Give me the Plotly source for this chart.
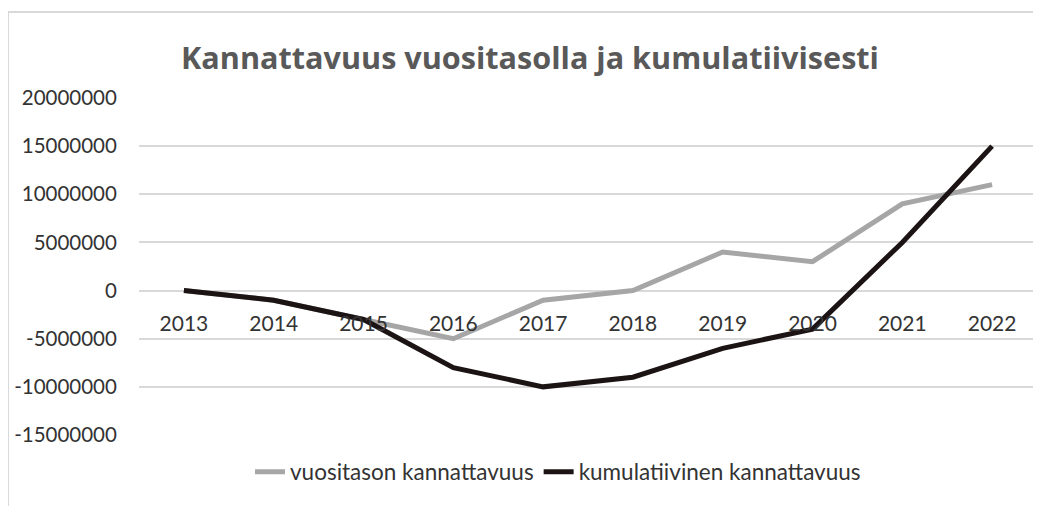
import plotly.graph_objects as go

years = ["2013", "2014", "2015", "2016", "2017", "2018", "2019", "2020", "2021", "2022"]
vuositason = [0, -1000000, -3000000, -5000000, -1000000, 0, 4000000, 3000000, 9000000, 11000000]
kumulatiivinen = [0, -1000000, -3000000, -8000000, -10000000, -9000000, -6000000, -4000000, 5000000, 15000000]
y_ticks = [-15000000, -10000000, -5000000, 0, 5000000, 10000000, 15000000, 20000000]

FONT = "Lato, Carlito, sans-serif"
TXT = "#333333"

fig = go.Figure()
fig.add_trace(go.Scatter(x=years, y=vuositason, mode="lines", name="vuositason kannattavuus",
                         line=dict(color="#a6a6a6", width=5)))
fig.add_trace(go.Scatter(x=years, y=kumulatiivinen, mode="lines", name="kumulatiivinen kannattavuus",
                         line=dict(color="#1c1414", width=5)))

OFF = 8  # page body margin
W, H = 1041 - OFF, 506 - OFF
L = 139 - OFF
T = 98 - OFF
R = W - (1037 - OFF)
B = H - (435 - OFF)
pw = W - L - R
ph = H - T - B

fig.update_layout(
    width=W, height=H, autosize=False,
    margin=dict(l=L, r=R, t=T, b=B, autoexpand=False),
    paper_bgcolor="white", plot_bgcolor="white",
    font=dict(family=FONT, size=21, color=TXT),
    title=dict(text="<b>Kannattavuus vuositasolla ja kumulatiivisesti</b>",
               font=dict(family="Open Sans, sans-serif", size=30.6, color="#595959"),
               x=(530 - OFF) / W, xref="container", xanchor="center",
               y=1 - (58 - OFF) / H, yref="container", yanchor="middle"),
    showlegend=True,
    legend=dict(orientation="h", x=(558 - 139) / pw, xanchor="center",
                y=(435 - 472) / ph, yanchor="middle",
                font=dict(family=FONT, size=22.5, color=TXT),
                bgcolor="rgba(0,0,0,0)", tracegroupgap=0),
    xaxis=dict(type="category", anchor="free", position=15 / 35,
               range=[-0.5, 9.5],
               showgrid=False, showline=False, zeroline=False,
               ticks="outside", ticklen=14, tickcolor="rgba(0,0,0,0)",
               tickangle=0,
               tickfont=dict(family=FONT, size=21, color=TXT)),
    yaxis=dict(range=[-15000000, 20000000], tickvals=y_ticks,
               ticktext=[str(v) for v in y_ticks],
               showgrid=True, gridcolor="#d9d9d9", gridwidth=2,
               zeroline=True, zerolinecolor="#d9d9d9", zerolinewidth=2,
               showline=False, ticks="outside", ticklen=17, tickcolor="rgba(0,0,0,0)",
               tickfont=dict(family=FONT, size=20.5, color=TXT)),
)

fig.add_shape(type="rect", xref="paper", yref="paper",
              x0=(8 - 139) / pw, x1=(1041 + 10 - 139) / pw,
              y0=(435 - (506 + 10)) / ph, y1=(435 - 12) / ph,
              line=dict(color="#d9d9d9", width=2), fillcolor="rgba(0,0,0,0)", layer="below")

fig.write_html("out.html")
